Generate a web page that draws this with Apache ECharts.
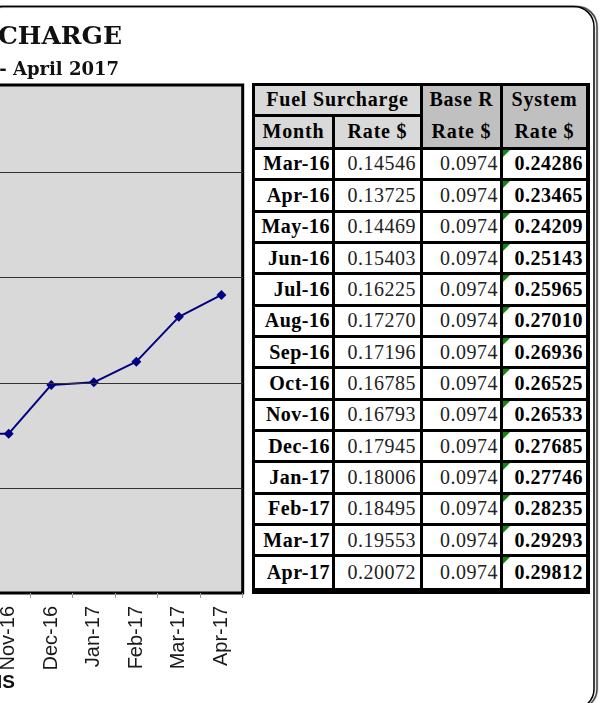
<!DOCTYPE html>
<html>
<head>
<meta charset="utf-8">
<script src="https://cdn.jsdelivr.net/npm/echarts@6/dist/echarts.min.js"></script>
<style>
  html, body { margin: 0; padding: 0; background: #fff; overflow: hidden; }
  #main { position: absolute; left: 0; top: 0; width: 602px; height: 703px; }
  #tbl { position: absolute; left: 252px; top: 83px; width: 338px; height: 511px; background: #000;
         font-family: "Liberation Serif", serif; font-size: 20px; color: #000; letter-spacing: 0.5px; }
  .c { position: absolute; display: flex; align-items: center; box-sizing: border-box; white-space: nowrap; }
  .h { letter-spacing: 0.8px; }
  .n { color: #222; }
  .tri { position: absolute; left: 0; top: 0; width: 0; height: 0;
         border-top: 7px solid #0a8a0a; border-right: 7px solid transparent; }
</style>
</head>
<body>
<div id="main"></div>
<div id="tbl"></div>
<script>
// data
var months = ['Mar-16', 'Apr-16', 'May-16', 'Jun-16', 'Jul-16', 'Aug-16', 'Sep-16',
              'Oct-16', 'Nov-16', 'Dec-16', 'Jan-17', 'Feb-17', 'Mar-17', 'Apr-17'];
var fuelRates = [0.14546, 0.13725, 0.14469, 0.15403, 0.16225, 0.17270, 0.17196,
                 0.16785, 0.16793, 0.17945, 0.18006, 0.18495, 0.19553, 0.20072];
var baseRates = [0.0974, 0.0974, 0.0974, 0.0974, 0.0974, 0.0974, 0.0974,
                 0.0974, 0.0974, 0.0974, 0.0974, 0.0974, 0.0974, 0.0974];
var systemRates = [0.24286, 0.23465, 0.24209, 0.25143, 0.25965, 0.27010, 0.26936,
                   0.26525, 0.26533, 0.27685, 0.27746, 0.28235, 0.29293, 0.29812];
// value axis range and gridline values (axis labels are off the page)
var yMin = 0.2277, yMax = 0.3477;
var gridValues = [0.2524, 0.2773, 0.3024, 0.3272];

var myChart = echarts.init(document.getElementById('main'));
var option = {
    animation: false,
    grid: {
        left: -352.9, top: 85, width: 595.6, height: 508,
        show: true, backgroundColor: '#d9d9d9', borderColor: '#000', borderWidth: 3,
        containLabel: false, outerBoundsMode: 'none'
    },
    xAxis: {
        type: 'category',
        data: months,
        boundaryGap: true,
        axisLine: { show: true, lineStyle: { color: '#000', width: 2 } },
        axisTick: { show: true, length: 5, lineStyle: { color: '#999' } },
        axisLabel: { interval: 0, rotate: 90, margin: 13, fontFamily: 'Liberation Sans', fontSize: 20, color: '#1a1a1a' },
        splitLine: { show: false }
    },
    yAxis: {
        type: 'value', min: yMin, max: yMax, show: false,
        splitLine: { show: false }
    },
    series: [{
        type: 'line',
        data: systemRates,
        symbol: 'diamond',
        symbolSize: 10,
        lineStyle: { color: '#000080', width: 2 },
        itemStyle: { color: '#000080' },
        markLine: {
            silent: true,
            precision: 4,
            symbol: ['none', 'none'],
            label: { show: false },
            lineStyle: { color: '#333', width: 1, type: 'solid' },
            data: gridValues.map(function (v) { return { yAxis: v }; })
        },
        z: 3
    }],
    graphic: [
        {
            type: 'rect',
            shape: { x: -20, y: 6.5, width: 614, height: 702.5, r: 20 },
            style: { fill: 'none', stroke: '#000', lineWidth: 1.5,
                     shadowColor: 'rgba(0,0,0,0.85)', shadowOffsetX: 3, shadowBlur: 1 }
        },
        {
            type: 'text', x: 122, y: 37.5,
            style: { text: 'FUEL SURCHARGE', fill: '#111', font: 'bold 25px "DejaVu Serif"',
                     textAlign: 'right', textVerticalAlign: 'middle' }
        },
        {
            type: 'text', x: 119, y: 70,
            style: { text: 'March 2016 - April 2017', fill: '#111', font: 'bold 18px "DejaVu Serif"',
                     textAlign: 'right', textVerticalAlign: 'middle' }
        },
        {
            type: 'text', x: 15, y: 683,
            style: { text: 'MONTHS', fill: '#111', font: 'bold 19px "Liberation Sans"',
                     textAlign: 'right', textVerticalAlign: 'middle' }
        }
    ]
};
myChart.setOption(option);

// the rate table beside the chart
var tbl = document.getElementById('tbl');
var T0 = 83;
var cols = [[3, 80], [83, 168], [171, 248], [251, 334]];
function cell(x0, x1, y0, y1, bg, text, bold, align, pad, cls) {
    var d = document.createElement('div');
    d.className = 'c' + (cls ? ' ' + cls : '');
    d.style.left = x0 + 'px';
    d.style.width = (x1 - x0) + 'px';
    d.style.top = y0 + 'px';
    d.style.height = (y1 - y0) + 'px';
    d.style.background = bg;
    d.style.fontWeight = bold ? 'bold' : 'normal';
    d.style.justifyContent = align === 'right' ? 'flex-end' : 'center';
    if (pad) d.style.paddingRight = pad + 'px';
    d.textContent = text;
    tbl.appendChild(d);
    return d;
}
// header
cell(cols[0][0], cols[1][1], 3, 30.5, '#d9d9d9', 'Fuel Surcharge', true, null, 0, 'h');
cell(cols[0][0], cols[0][1], 33.5, 63.5, '#d9d9d9', 'Month', true, null, 0, 'h');
cell(cols[1][0], cols[1][1], 33.5, 63.5, '#d9d9d9', 'Rate $', true, null, 0, 'h');
cell(cols[2][0], cols[2][1], 3, 63.5, '#c0c0c0', '', true);
cell(cols[3][0], cols[3][1], 3, 63.5, '#c0c0c0', '', true);
cell(cols[2][0], cols[2][1], 3, 30.5, 'transparent', 'Base R', true, null, 0, 'h');
cell(cols[2][0], cols[2][1], 33.5, 63.5, 'transparent', 'Rate $', true, null, 0, 'h');
cell(cols[3][0], cols[3][1], 3, 30.5, 'transparent', 'System', true, null, 0, 'h');
cell(cols[3][0], cols[3][1], 33.5, 63.5, 'transparent', 'Rate $', true, null, 0, 'h');
// rows
var rowH = 31.36, firstLine = 148.3;
for (var i = 0; i < months.length; i++) {
    var y0 = firstLine + i * rowH + 1.5 - T0;
    var y1 = (i === months.length - 1) ? 588 - T0 : firstLine + (i + 1) * rowH - 1.5 - T0;
    cell(cols[0][0], cols[0][1], y0, y1, '#fff', months[i], true, 'right', 2);
    cell(cols[1][0], cols[1][1], y0, y1, '#fff', fuelRates[i].toFixed(5), false, 'right', 4, 'n');
    cell(cols[2][0], cols[2][1], y0, y1, '#fff', baseRates[i].toFixed(4), false, 'right', 2, 'n');
    var s = cell(cols[3][0], cols[3][1], y0, y1, '#fff', systemRates[i].toFixed(5), true, 'right', 3);
    var t = document.createElement('div');
    t.className = 'tri';
    s.appendChild(t);
}
</script>
</body>
</html>
